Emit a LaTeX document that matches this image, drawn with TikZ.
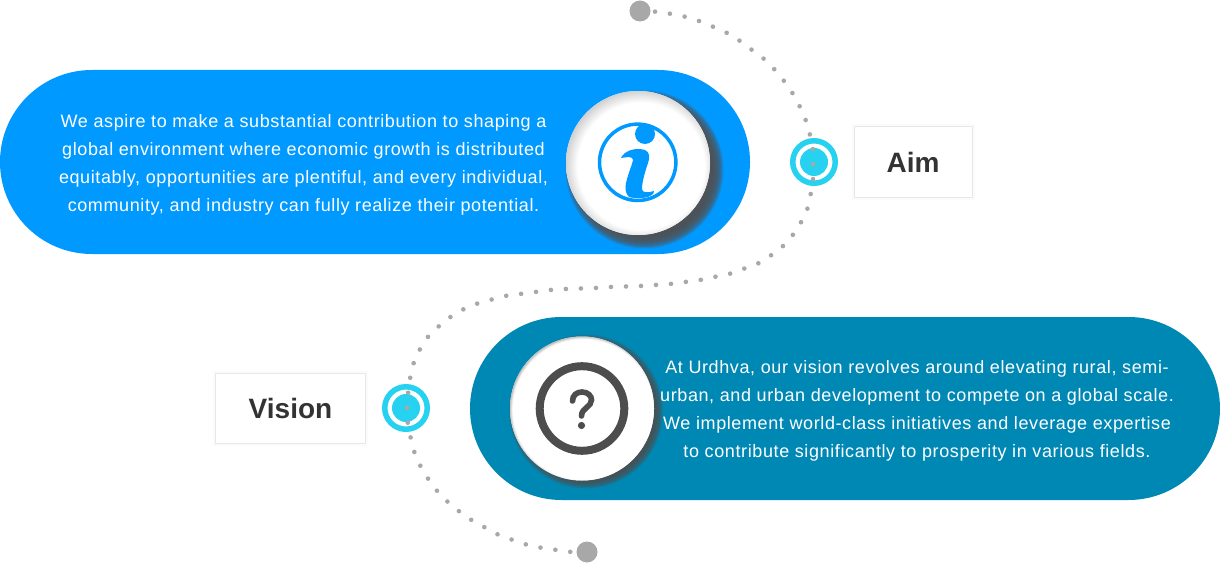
\documentclass[tikz,border=0pt]{standalone}
\usepackage{fontspec}
\setmainfont{Liberation Sans}
\newfontfamily\parafont[LetterSpace=3.4]{Liberation Sans}
\definecolor{bluea}{HTML}{0099FF}
\definecolor{blueb}{HTML}{0088B5}
\definecolor{cyana}{HTML}{26D2EF}
\definecolor{dotgray}{HTML}{A8A8A8}
\definecolor{ink}{HTML}{333333}
\definecolor{icongray}{HTML}{4D4D4D}
\pgfdeclareradialshading{rimshade}{\pgfpoint{1.8bp}{-1.8bp}}{color(0bp)=(white);color(22bp)=(white);color(27.5bp)=(black!24);color(50bp)=(black!24)}
\pgfdeclareradialshading{rimthin}{\pgfpoint{0.5bp}{-0.5bp}}{color(0bp)=(white);color(24.4bp)=(white);color(25.6bp)=(black!30);color(50bp)=(black!30)}
\tikzset{
  para/.style={text=white,font=\parafont\fontsize{18}{28}\selectfont,align=center,inner sep=0},
  labelbox/.style={draw=black!9,line width=1,fill=white,inner sep=0,preaction={draw=black,opacity=.015,line width=5}},
  labeltext/.style={text=ink,font=\fontsize{28}{32}\selectfont\bfseries},
  trail/.style={dotgray,line width=4.6,line cap=round,dash pattern=on 0pt off 15.03pt},
  endcap/.style={circle,fill=dotgray,inner sep=0,minimum size=21},
  ringnode/.style={circle,draw=cyana,line width=5.5,fill=white,inner sep=0,minimum size=42.5},
  corenode/.style={circle,fill=cyana,inner sep=0,minimum size=28},
  disc/.style={circle,fill=white,inner sep=0,minimum size=144}
}
\begin{document}
\begin{tikzpicture}[x=1pt,y=-1pt]
\useasboundingbox (0,0) rectangle (1220,564);
\fill[white] (0,0) rectangle (1220,564);
% pills
\fill[bluea,rounded corners=91.9] (0,70) rectangle (750,254);
\fill[blueb,rounded corners=91.5] (470,317) rectangle (1220,500);
% rings behind the trail
\node[ringnode] (aimring) at (814,162) {};
\node[corenode] (aimcore) at (814,162) {};
\node[ringnode] (visring) at (406,408) {};
\node[corenode] (viscore) at (406,408) {};
% trail
\node[endcap] (top) at (640,11) {};
\node[endcap] (bot) at (587,552) {};
\draw[trail] plot[smooth,tension=.6] coordinates {(top.center) (655.7,11.7) (670,13.7) (685,16.7) (699,21) (713,26.7) (727,33) (740,41) (752,50) (764,59) (775,70) (784,81) (793,94) (800,107) (806,121) (810,135) (813,150) (813,165) (813,180) (810.5,195) (807,210) (800,224) (792,236) (782,247) (770,256) (757,264) (743,269) (729,274) (714,277) (700,280) (685,282) (670,284) (655,285) (640,286) (625,286.5) (610,287) (595,288) (580,288.5) (565,289) (550,290) (535,292) (520,294) (505,296) (490,300) (476,304) (462,310) (449,318) (438,327) (427,338) (419,351) (413,365) (410,379) (408,394) (407,409) (408,425) (411,439) (415,454) (421,467) (429,480) (438,492) (449,503) (460,512) (473,521) (486,528) (499,535) (513,540) (528,545) (543,548) (557,550) (572,552) (bot.center)};
% info disc
\foreach \r in {79,78,...,67}{\fill[black!68,opacity=.22] (644.5,169.5) circle (\r);}
\node[disc] (infodisc) at (638,163) {};
\shade[shading=rimshade] (638,163) circle (72);
\draw[bluea,line width=3.5] (637.7,162.3) circle (38.2);
\fill[bluea] (645,134) circle (10);
\fill[bluea] (621,158) .. controls (624,151) and (635,147) .. (645,150)
  .. controls (650,152) and (650,158) .. (648,163)
  .. controls (645,172) and (642,182) .. (642,189)
  .. controls (642,193) and (648,193) .. (654,191)
  .. controls (654,194) and (651,196) .. (648,197)
  .. controls (640,199) and (632,198) .. (629,197)
  .. controls (625,193) and (625,188) .. (626,183)
  .. controls (628,174) and (632,165) .. (633,160)
  .. controls (633,156) and (627,157) .. (621,158) -- cycle;
% help disc
\foreach \r in {77,76,...,69}{\fill[icongray,opacity=.22] (586,411.5) circle (\r);}
\node[disc] (helpdisc) at (582,408.5) {};
\shade[shading=rimthin] (582,408.5) circle (72);
\draw[icongray,line width=8] (582,408.5) circle (42.3);
\draw[icongray,line width=5.6,line cap=round] (572.5,401) .. controls (572.5,395) and (577,392) .. (582,392)
  .. controls (588,392) and (591.5,396) .. (591.5,400)
  .. controls (591.5,407) and (581.5,408) .. (581.5,416);
\fill[icongray] (581.5,425.5) circle (3.6);
% paragraphs
\node[para,anchor=center] (aimtext) at (303.5,164.5) {We aspire to make a substantial contribution to shaping a\\global environment where economic growth is distributed\\equitably, opportunities are plentiful, and every individual,\\community, and industry can fully realize their potential.};
\node[para,anchor=center] (vistext) at (917,410.5) {At Urdhva, our vision revolves around elevating rural, semi-\\urban, and urban development to compete on a global scale.\\We implement world-class initiatives and leverage expertise\\to contribute significantly to prosperity in various fields.};
% labels
\node[labelbox,minimum width=118,minimum height=71] (aimbox) at (913,162.5) {};
\node[labeltext] (aimlabel) at (913,162.5) {Aim};
\node[labelbox,minimum width=150,minimum height=70] (visbox) at (290.5,408.5) {};
\node[labeltext] (vislabel) at (290.5,408) {Vision};
\end{tikzpicture}
\end{document}
